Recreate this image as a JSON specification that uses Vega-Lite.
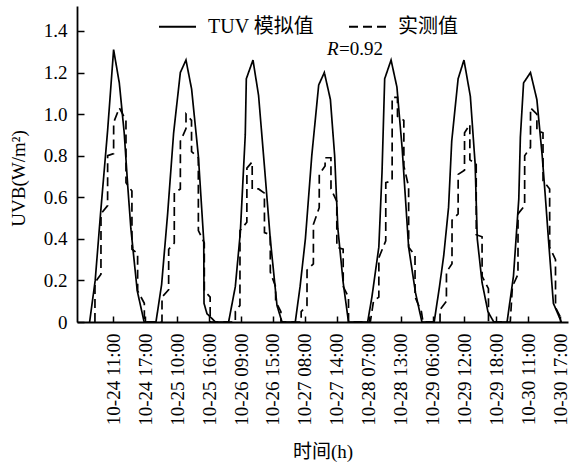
{
  "$schema": "https://vega.github.io/schema/vega-lite/v6.json",
  "width": 491,
  "height": 316,
  "autosize": {"type": "none"},
  "padding": {"left": 77, "top": 6, "right": 8, "bottom": 146},
  "background": "white",
  "config": {
    "view": {"stroke": null},
    "font": "Liberation Serif",
    "axis": {"grid": false, "labelOverlap": false, "domainColor": "black", "tickColor": "black", "labelColor": "black", "titleColor": "black", "domainWidth": 1.8, "tickWidth": 1.5, "labelFontSize": 19, "titleFontSize": 19, "titleFontWeight": "normal", "labelFont": "Liberation Serif", "titleFont": "Liberation Serif, Noto Sans CJK SC"}
  },
  "resolve": {"axis": {"x": "independent", "y": "independent"}},
  "datasets": {
    "tuv": [
      {"t": 0.55, "v": 0}, {"t": 1.6, "v": 0.2}, {"t": 2.6, "v": 0.52}, {"t": 3.93, "v": 0.92}, {"t": 5.06, "v": 1.31}, {"t": 6.13, "v": 1.15}, {"t": 7.05, "v": 0.91}, {"t": 7.7, "v": 0.66}, {"t": 8.3, "v": 0.45}, {"t": 9.5, "v": 0.15}, {"t": 10.8, "v": 0},
      {"t": 13.02, "v": 0}, {"t": 14.08, "v": 0.18}, {"t": 15.21, "v": 0.52}, {"t": 16.34, "v": 0.91}, {"t": 17.6, "v": 1.2}, {"t": 18.66, "v": 1.26}, {"t": 19.72, "v": 1.12}, {"t": 20.98, "v": 0.8}, {"t": 22.0, "v": 0.39}, {"t": 22.05, "v": 0.09}, {"t": 22.6, "v": 0.04}, {"t": 24.2, "v": 0},
      {"t": 26.67, "v": 0}, {"t": 27.93, "v": 0.17}, {"t": 28.87, "v": 0.43}, {"t": 29.8, "v": 0.9}, {"t": 30.0, "v": 1.17}, {"t": 31.25, "v": 1.26}, {"t": 32.3, "v": 1.09}, {"t": 33.4, "v": 0.75}, {"t": 34.5, "v": 0.4}, {"t": 35.76, "v": 0.08}, {"t": 36.7, "v": 0},
      {"t": 39.2, "v": 0}, {"t": 40.1, "v": 0.17}, {"t": 41.1, "v": 0.4}, {"t": 42.3, "v": 0.8}, {"t": 43.6, "v": 1.14}, {"t": 44.66, "v": 1.2}, {"t": 45.8, "v": 1.07}, {"t": 46.6, "v": 0.8}, {"t": 47.2, "v": 0.45}, {"t": 48.2, "v": 0.19}, {"t": 49.2, "v": 0},
      {"t": 52.8, "v": 0}, {"t": 53.6, "v": 0.12}, {"t": 54.9, "v": 0.36}, {"t": 55.5, "v": 0.72}, {"t": 56.0, "v": 1.17}, {"t": 57.2, "v": 1.26}, {"t": 58.3, "v": 1.13}, {"t": 59.3, "v": 0.83}, {"t": 60.5, "v": 0.36}, {"t": 61.8, "v": 0.14}, {"t": 63.0, "v": 0},
      {"t": 65.3, "v": 0}, {"t": 66.3, "v": 0.17}, {"t": 67.1, "v": 0.32}, {"t": 68.0, "v": 0.55}, {"t": 68.6, "v": 0.87}, {"t": 69.8, "v": 1.17}, {"t": 70.9, "v": 1.26}, {"t": 72.1, "v": 1.085}, {"t": 73.0, "v": 0.76}, {"t": 73.4, "v": 0.4}, {"t": 74.3, "v": 0.19}, {"t": 75.4, "v": 0.05}, {"t": 76.5, "v": 0},
      {"t": 79.0, "v": 0}, {"t": 80.2, "v": 0.22}, {"t": 81.2, "v": 0.59}, {"t": 81.5, "v": 0.89}, {"t": 82.1, "v": 1.15}, {"t": 83.4, "v": 1.2}, {"t": 84.6, "v": 1.07}, {"t": 85.6, "v": 0.8}, {"t": 86.2, "v": 0.6}, {"t": 86.8, "v": 0.39}, {"t": 87.7, "v": 0.09}, {"t": 89.2, "v": 0}
    ],
    "measured": [
      {"t": 1.55, "v": 0}, {"t": 1.56, "v": 0.19}, {"t": 2.68, "v": 0.23}, {"t": 2.69, "v": 0.52}, {"t": 3.93, "v": 0.56}, {"t": 3.94, "v": 0.8}, {"t": 5.06, "v": 0.81}, {"t": 5.07, "v": 0.96}, {"t": 6.13, "v": 1.03}, {"t": 7.38, "v": 0.97}, {"t": 7.39, "v": 0.67}, {"t": 8.5, "v": 0.63}, {"t": 8.51, "v": 0.35}, {"t": 9.57, "v": 0.33}, {"t": 9.58, "v": 0.15}, {"t": 10.83, "v": 0.09}, {"t": 10.84, "v": 0},
      {"t": 14.15, "v": 0}, {"t": 14.16, "v": 0.12}, {"t": 15.4, "v": 0.155}, {"t": 15.41, "v": 0.35}, {"t": 16.46, "v": 0.38}, {"t": 16.47, "v": 0.62}, {"t": 17.6, "v": 0.64}, {"t": 17.61, "v": 0.87}, {"t": 18.66, "v": 0.93}, {"t": 18.67, "v": 1.0}, {"t": 19.7, "v": 0.97}, {"t": 19.71, "v": 0.82}, {"t": 20.98, "v": 0.79}, {"t": 20.99, "v": 0.44}, {"t": 22.1, "v": 0.38}, {"t": 22.11, "v": 0.15}, {"t": 23.2, "v": 0.12}, {"t": 23.21, "v": 0},
      {"t": 27.93, "v": 0}, {"t": 27.94, "v": 0.05}, {"t": 28.8, "v": 0.08}, {"t": 28.81, "v": 0.44}, {"t": 30.1, "v": 0.48}, {"t": 30.11, "v": 0.74}, {"t": 31.1, "v": 0.77}, {"t": 31.11, "v": 0.64}, {"t": 32.3, "v": 0.64}, {"t": 33.4, "v": 0.62}, {"t": 33.41, "v": 0.43}, {"t": 34.5, "v": 0.42}, {"t": 34.51, "v": 0.24}, {"t": 35.5, "v": 0.17}, {"t": 35.51, "v": 0.1}, {"t": 36.5, "v": 0.05}, {"t": 36.51, "v": 0},
      {"t": 40.3, "v": 0}, {"t": 40.31, "v": 0.05}, {"t": 41.4, "v": 0.08}, {"t": 41.41, "v": 0.25}, {"t": 42.6, "v": 0.28}, {"t": 42.61, "v": 0.47}, {"t": 43.7, "v": 0.55}, {"t": 43.71, "v": 0.71}, {"t": 44.8, "v": 0.75}, {"t": 44.81, "v": 0.79}, {"t": 45.9, "v": 0.79}, {"t": 45.91, "v": 0.64}, {"t": 47.0, "v": 0.58}, {"t": 47.01, "v": 0.36}, {"t": 48.2, "v": 0.35}, {"t": 48.21, "v": 0.17}, {"t": 49.2, "v": 0.12}, {"t": 49.21, "v": 0},
      {"t": 53.3, "v": 0}, {"t": 53.9, "v": 0.1}, {"t": 54.9, "v": 0.12}, {"t": 54.91, "v": 0.31}, {"t": 56.2, "v": 0.39}, {"t": 56.21, "v": 0.67}, {"t": 57.4, "v": 0.68}, {"t": 57.41, "v": 1.08}, {"t": 58.4, "v": 1.08}, {"t": 58.41, "v": 0.99}, {"t": 59.6, "v": 0.97}, {"t": 59.61, "v": 0.75}, {"t": 60.5, "v": 0.65}, {"t": 60.51, "v": 0.36}, {"t": 61.7, "v": 0.32}, {"t": 61.71, "v": 0.12}, {"t": 62.9, "v": 0.05}, {"t": 63.2, "v": 0},
      {"t": 66.4, "v": 0}, {"t": 66.41, "v": 0.06}, {"t": 67.6, "v": 0.1}, {"t": 67.61, "v": 0.24}, {"t": 68.65, "v": 0.28}, {"t": 68.66, "v": 0.49}, {"t": 69.8, "v": 0.52}, {"t": 69.81, "v": 0.71}, {"t": 71.0, "v": 0.73}, {"t": 71.01, "v": 0.91}, {"t": 72.0, "v": 0.95}, {"t": 72.01, "v": 0.78}, {"t": 73.2, "v": 0.76}, {"t": 73.21, "v": 0.42}, {"t": 74.3, "v": 0.41}, {"t": 74.31, "v": 0.22}, {"t": 75.5, "v": 0.16}, {"t": 75.51, "v": 0},
      {"t": 79.6, "v": 0}, {"t": 80.0, "v": 0.17}, {"t": 81.05, "v": 0.23}, {"t": 81.06, "v": 0.52}, {"t": 82.3, "v": 0.56}, {"t": 82.31, "v": 0.8}, {"t": 83.4, "v": 0.84}, {"t": 83.41, "v": 1.03}, {"t": 84.6, "v": 1.0}, {"t": 84.61, "v": 0.92}, {"t": 85.75, "v": 0.91}, {"t": 85.76, "v": 0.68}, {"t": 87.0, "v": 0.64}, {"t": 87.01, "v": 0.36}, {"t": 88.1, "v": 0.3}, {"t": 88.11, "v": 0.07}, {"t": 89.3, "v": 0.01}
    ]
  },
  "layer": [
    {
      "data": {"name": "tuv"},
      "mark": {"type": "line", "color": "black", "strokeWidth": 1.7, "clip": true},
      "encoding": {
        "x": {
          "field": "t", "type": "quantitative",
          "scale": {"domain": [-1.82, 90.45], "nice": false, "zero": false},
          "axis": {
            "values": [5, 11, 17, 23, 29, 35, 41, 47, 53, 59, 65, 71, 77, 83, 89],
            "labelExpr": "['10-24 11:00','10-24 17:00','10-25 10:00','10-25 16:00','10-26 09:00','10-26 15:00','10-27 08:00','10-27 14:00','10-28 07:00','10-28 13:00','10-29 06:00','10-29 12:00','10-29 18:00','10-30 11:00','10-30 17:00'][(datum.value - 5) / 6]",
            "labelAngle": -90,
            "labelAlign": "right",
            "labelBaseline": "middle",
            "ticks": false,
            "labelPadding": 11,
            "labelOverlap": false,
            "labelSeparation": 0,
            "title": "时间(h)",
            "titlePadding": 17
          }
        },
        "y": {
          "field": "v", "type": "quantitative",
          "scale": {"domain": [0, 1.52], "nice": false, "zero": false},
          "axis": {
            "values": [0, 0.2, 0.4, 0.6, 0.8, 1.0, 1.2, 1.4],
            "labelExpr": "datum.value == 0 ? '0' : format(datum.value, '.1f')",
            "ticks": false,
            "labelPadding": 10,
            "title": "UVB(W/m²)",
            "titleX": -49,
            "titleY": 172,
            "titleAnchor": "middle"
          }
        },
        "strokeDash": {
          "datum": "TUV 模拟值",
          "scale": {"domain": ["TUV 模拟值", "实测值"], "range": [[1, 0], [9, 5]]},
          "legend": {
            "orient": "none", "legendX": 81, "legendY": 1, "direction": "horizontal",
            "title": null, "symbolType": "stroke", "symbolSize": 1369, "symbolStrokeWidth": 1.8,
            "symbolStrokeColor": "black", "labelFontSize": 20, "labelFont": "Liberation Serif, Noto Sans CJK SC",
            "labelColor": "black", "labelOffset": 11, "columnPadding": 30
          }
        }
      }
    },
    {
      "data": {"name": "measured"},
      "mark": {"type": "line", "color": "black", "strokeWidth": 1.7, "clip": true},
      "encoding": {
        "x": {
          "field": "t", "type": "quantitative",
          "axis": {"orient": "top", "offset": -316, "domain": false, "labels": false, "ticks": true, "tickSize": 6, "title": null,
            "values": [5, 11, 17, 23, 29, 35, 41, 47, 53, 59, 65, 71, 77, 83, 89]}
        },
        "y": {
          "field": "v", "type": "quantitative",
          "axis": {"orient": "right", "offset": -491, "domain": false, "labels": false, "ticks": true, "tickSize": 7, "title": null,
            "values": [0, 0.2, 0.4, 0.6, 0.8, 1.0, 1.2, 1.4]}
        },
        "strokeDash": {"datum": "实测值"}
      }
    },
    {
      "mark": {"type": "rule", "color": "black", "strokeWidth": 2},
      "encoding": {"y": {"datum": 1.52, "axis": null}}
    },
    {
      "data": {"values": [{}]},
      "mark": {"type": "text", "font": "Liberation Serif", "fontStyle": "italic", "fontSize": 19, "align": "left", "baseline": "alphabetic", "color": "black"},
      "encoding": {"x": {"datum": 45.16, "axis": null}, "y": {"datum": 1.284, "axis": null}, "text": {"value": "R"}}
    },
    {
      "data": {"values": [{}]},
      "mark": {"type": "text", "font": "Liberation Serif", "fontSize": 19, "align": "left", "baseline": "alphabetic", "dx": 12, "color": "black"},
      "encoding": {"x": {"datum": 45.16, "axis": null}, "y": {"datum": 1.284, "axis": null}, "text": {"value": "=0.92"}}
    }
  ]
}
